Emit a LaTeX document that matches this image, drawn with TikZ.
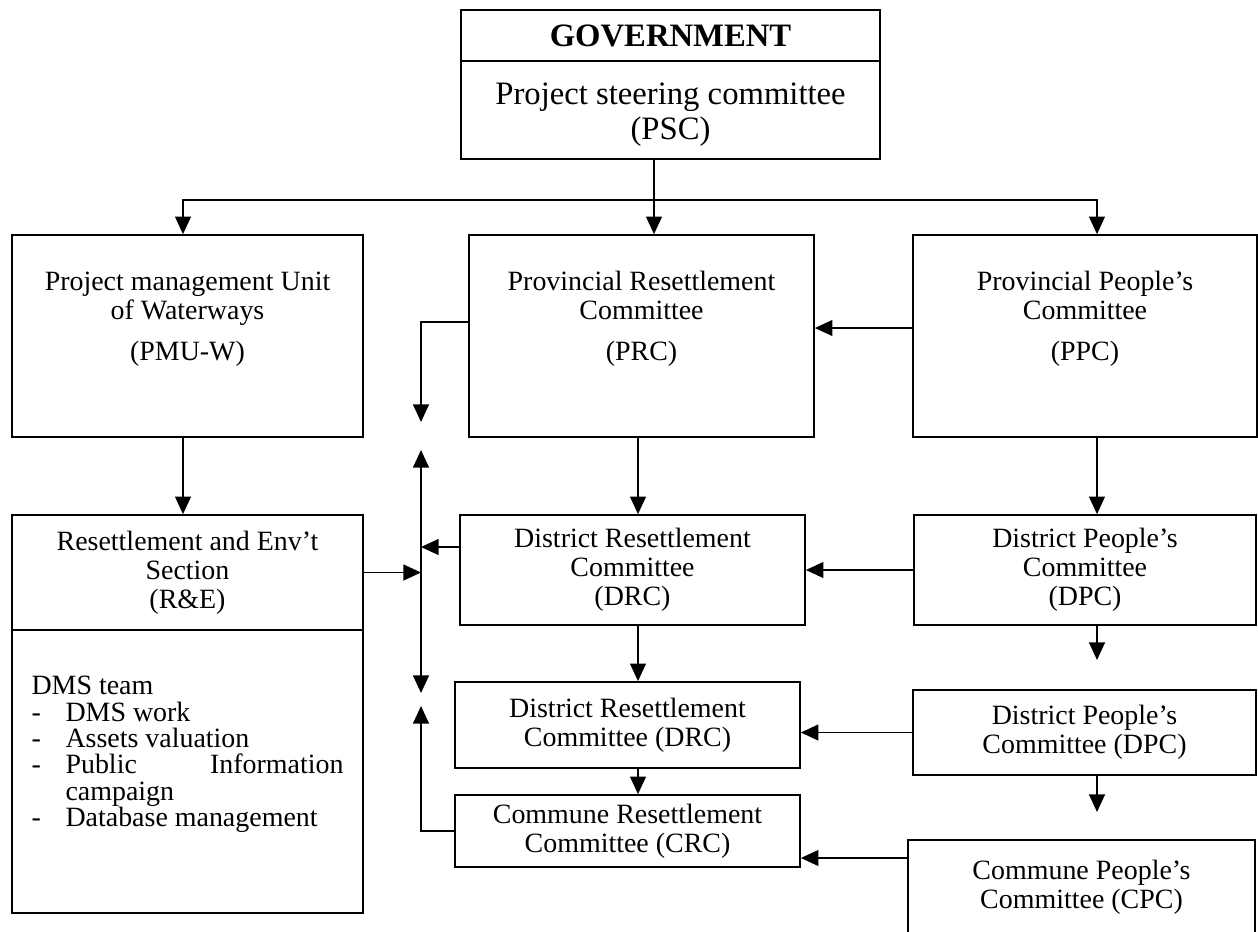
\documentclass[tikz,border=0pt]{standalone}
\usepackage{fontspec}
\setmainfont{Liberation Serif}
\usepackage{tikz}
\usetikzlibrary{positioning}
\usetikzlibrary{arrows.meta}
\tikzset{
    box/.style = {rectangle, draw=black, line width=1pt, align=center, inner sep=2pt},
    topbox/.style = {box, minimum width=8.38cm, font=\fontsize{18.6}{19.9}\selectfont},
    tallbox/.style = {box, minimum width=6.9cm, minimum height=4.04cm},
}
\newcommand{\upperlines}[1]{\parbox{6.4cm}{\centering #1\par\vspace{0.68cm}}}
\newenvironment{dmslist}{\begin{list}{-}{\setlength{\leftmargin}{0.68cm}\setlength{\labelwidth}{0.68cm}\setlength{\labelsep}{0pt}\setlength{\itemsep}{0pt}\setlength{\parsep}{0pt}\setlength{\topsep}{0pt}\setlength{\partopsep}{0pt}\renewcommand{\makelabel}[1]{##1\hfil}}}{\end{list}}

\begin{document}
\begin{tikzpicture}[
	x=0.02cm, y=-0.02cm,
	line width=1pt,
	font=\fontsize{15.9}{16.5}\selectfont
]
\tikzset{
    edgen/.style = {-},
    edgea/.style = {-{Triangle[length=10pt,width=9pt]}},
    edgeaa/.style = {{Triangle[length=10pt,width=9pt]}-{Triangle[length=10pt,width=9pt]}},
}
\clip (0,0) rectangle (1258,931);
% government
\node[topbox, minimum height=1.02cm, font=\fontsize{18.6}{19.9}\selectfont\bfseries] at (670.5,35.5) (govhead) {GOVERNMENT};
\node[topbox, minimum height=1.96cm] at (670.5,110) (gov) {\parbox{8cm}{\centering\vspace{0.2cm}Project steering committee\\(PSC)}};
%
\node[tallbox, minimum width=7.02cm] at (187.5,336) (pmu) {\upperlines{Project management Unit\\of Waterways\\[6.8pt](PMU-W)}};
\node[tallbox] at (641.5,336) (prc) {\upperlines{Provincial Resettlement\\Committee\\[6.8pt](PRC)}};
\node[tallbox, minimum width=6.88cm] at (1085,336) (ppc) {\upperlines{Provincial People's\\Committee\\[6.8pt](PPC)}};
%
\node[box, minimum width=7.02cm, minimum height=2.3cm] at (187.5,572.5) (res) {Resettlement and Env't\\Section\\(R\&E)};
\node[box, minimum width=7.02cm, minimum height=5.66cm] at (187.5,771.5) (dms) {\begin{minipage}{6.24cm}
\fontsize{15.9}{15}\selectfont
\hyphenpenalty=10000 \tolerance=10000
DMS team
\begin{dmslist}
\item DMS work
\item Assets valuation
\item Public Information campaign
\item Database management
\end{dmslist}
\par\vspace*{0.68cm}
\end{minipage}};
\node[box, minimum width=6.9cm, minimum height=2.2cm] at (632.5,570) (drc1) {District Resettlement\\Committee\\(DRC)};
\node[box, minimum width=6.84cm, minimum height=2.2cm] at (1085,570) (dpc1) {District People's\\Committee\\(DPC)};
%
\node[box, minimum width=6.9cm, minimum height=1.72cm] at (627.5,725) (drc2) {District Resettlement\\Committee (DRC)};
\node[box, minimum width=6.86cm, minimum height=1.7cm] at (1084.5,732.5) (dpc2) {District People's\\Committee (DPC)};
%
\node[box, minimum width=6.9cm, minimum height=1.44cm] at (627.5,831) (crc) {Commune Resettlement\\Committee (CRC)};
\node[box, minimum width=6.94cm, minimum height=1.9cm] at (1081.5,887.5) (cpc) {Commune People's\\Committee (CPC)};
%
\coordinate (bus) at (654,200);
\coordinate (lcol) at (183,0);
\coordinate (mcol) at (638,0);
\coordinate (rcol) at (1097,0);
\coordinate (vbus) at (421,0);
\draw[edgen] (gov.south -| bus) -- (bus);
\draw[edgea] (bus) -- (bus |- prc.north);
\draw[edgea] (bus) -| (lcol |- pmu.north);
\draw[edgea] (bus) -| (rcol |- ppc.north);
%
\draw[edgea] (lcol |- pmu.south) -- (lcol |- res.north);
\draw[edgea] (mcol |- prc.south) -- (mcol |- drc1.north);
\draw[edgea] (rcol |- ppc.south) -- (rcol |- dpc1.north);
\draw[edgea] (mcol |- drc1.south) -- (mcol |- drc2.north);
\draw[edgea] (mcol |- drc2.south) -- (mcol |- crc.north);
\coordinate (dpcend1) at (1097,660);
\coordinate (dpcend2) at (1097,812);
\draw[edgea] (dpc1.south -| dpcend1) -- (dpcend1);
\draw[edgea] (dpc2.south -| dpcend2) -- (dpcend2);
%
\coordinate (ppcout) at ([yshift=0.16cm]ppc.west);
\draw[edgea] (ppcout) -- (ppcout -| prc.east);
\draw[edgea] (dpc1.west) -- (drc1.east);
\draw[edgea] (dpc2.west) -- (dpc2.west -| drc2.east);
\coordinate (crcin) at ([yshift=-0.54cm]crc.east);
\draw[edgea] (crcin -| cpc.west) -- (crcin);
%
\coordinate (prcout) at ([yshift=0.28cm]prc.west);
\coordinate (upend) at (421,422);
\coordinate (midtop) at (421,450);
\coordinate (midbot) at (421,693);
\coordinate (lowend) at (421,706);
\coordinate (drcout) at ([yshift=0.46cm]drc1.west);
\draw[edgea] (prcout) -| (upend);
\draw[edgeaa] (midtop) -- (midbot);
\draw[edgea] (crc.west) -| (lowend);
\draw[edgea] (res.east) -- (res.east -| vbus);
\draw[edgea] (drcout) -- (drcout -| vbus);
\end{tikzpicture}
\end{document}
